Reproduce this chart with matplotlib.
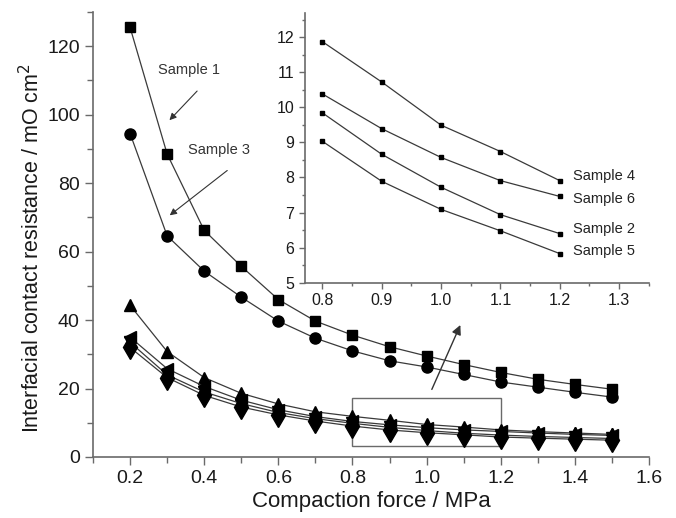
import numpy as np
import matplotlib.pyplot as plt
from matplotlib.patches import Rectangle
from matplotlib.ticker import MultipleLocator

plt.rcParams['font.family'] = ['Liberation Sans', 'DejaVu Sans']

# compaction force (MPa)
force = [0.2, 0.3, 0.4, 0.5, 0.6, 0.7, 0.8, 0.9, 1.0, 1.1, 1.2, 1.3, 1.4, 1.5]

# interfacial contact resistance (mOhm cm2)
sample1 = [125.5, 88.5, 66.2, 55.7, 46.0, 39.7, 35.6, 32.2, 29.5, 27.0, 24.7, 22.7, 21.2, 19.8]
sample3 = [94.5, 64.6, 54.3, 46.7, 39.7, 34.7, 31.0, 28.1, 26.3, 24.1, 21.9, 20.4, 18.9, 17.5]
sample4 = [44.3, 30.8, 23.2, 18.6, 15.5, 13.2, 11.87, 10.72, 9.49, 8.74, 7.91, 7.4, 7.0, 6.6]
sample6 = [35.0, 25.8, 20.6, 16.6, 13.8, 11.8, 10.38, 9.39, 8.57, 7.91, 7.46, 7.0, 6.6, 6.3]
sample2 = [33.5, 24.0, 19.0, 15.6, 13.0, 11.2, 9.84, 8.66, 7.72, 6.94, 6.40, 6.0, 5.7, 5.4]
sample5 = [32.0, 23.2, 18.0, 14.6, 12.3, 10.5, 9.03, 7.89, 7.09, 6.48, 5.83, 5.5, 5.2, 4.9]

spine_col = '#6a6a6a'
line_col = '#3a3a3a'


def style_axes(ax, size, major_len, minor_len):
    for side in ['top', 'right']:
        ax.spines[side].set_visible(False)
    for side in ['left', 'bottom']:
        ax.spines[side].set_color(spine_col)
        ax.spines[side].set_linewidth(1.2)
    ax.tick_params(which='major', direction='out', length=major_len, width=1.0,
                   color=spine_col, labelsize=size, labelcolor='#1a1a1a')
    ax.tick_params(which='minor', direction='out', length=minor_len, width=1.0,
                   color=spine_col)


fig = plt.figure(figsize=(6.76, 5.18), dpi=100)
ax = fig.add_axes([0.1376, 0.1178, 0.8225, 0.859])

ax.plot(force, sample1, color=line_col, lw=0.9, marker='s', ms=7.5, mfc='k', mec='k')
ax.plot(force, sample3, color=line_col, lw=0.9, marker='o', ms=8, mfc='k', mec='k')
ax.plot(force, sample4, color=line_col, lw=0.9, marker='^', ms=8.5, mfc='k', mec='k')
ax.plot(force, sample6, color=line_col, lw=0.9, marker='<', ms=8.5, mfc='k', mec='k')
ax.plot(force, sample2, color=line_col, lw=0.9, marker='v', ms=8.5, mfc='k', mec='k')
ax.plot(force, sample5, color=line_col, lw=0.9, marker='d', ms=12, mfc='k', mec='k')

ax.set_xlim(0.1, 1.6)
ax.set_ylim(0, 130)
ax.xaxis.set_minor_locator(MultipleLocator(0.1))
ax.yaxis.set_major_locator(MultipleLocator(20))
ax.yaxis.set_minor_locator(MultipleLocator(10))
ax.set_xticks([0.2, 0.4, 0.6, 0.8, 1.0, 1.2, 1.4, 1.6])
ax.set_xticklabels(['0.2', '0.4', '0.6', '0.8', '1.0', '1.2', '1.4', '1.6'])
style_axes(ax, 14, 6, 4)
ax.set_xlabel('Compaction force / MPa', fontsize=16, color='#1a1a1a', labelpad=3)
ax.set_ylabel('Interfacial contact resistance / mO cm$^2$', fontsize=15.5,
              color='#1a1a1a')
ax.yaxis.set_label_coords(-0.088, 0.47)

# zoom window and pointer to the inset
ax.add_patch(Rectangle((0.8, 3.2), 0.4, 14.1, fill=False, ec=spine_col, lw=1.0, zorder=1))
ax.annotate('', xy=(1.094, 39.3), xytext=(1.011, 19.0),
            arrowprops=dict(arrowstyle='-|>', color='#333333', lw=1.0, mutation_scale=14))

ax.text(0.36, 113.1, 'Sample 1', fontsize=10.5, ha='center', va='center', color='#333333')
ax.annotate('', xy=(0.301, 97.8), xytext=(0.386, 107.5),
            arrowprops=dict(arrowstyle='-|>', color='#333333', lw=0.8, mutation_scale=10))
ax.text(0.44, 89.8, 'Sample 3', fontsize=10.5, ha='center', va='center', color='#333333')
ax.annotate('', xy=(0.301, 70.1), xytext=(0.468, 84.2),
            arrowprops=dict(arrowstyle='-|>', color='#333333', lw=0.8, mutation_scale=10))

# inset: samples 4, 6, 2, 5 between 0.8 and 1.2 MPa
ins = fig.add_axes([0.4507, 0.4542, 0.509, 0.5215])
sub = slice(6, 11)
for ys in [sample4, sample6, sample2, sample5]:
    ins.plot(force[sub], ys[sub], color=line_col, lw=0.9, marker='s', ms=3.2,
             mfc='k', mec='k')
ins.set_xlim(0.77, 1.35)
ins.set_ylim(5, 12.7)
ins.xaxis.set_major_locator(MultipleLocator(0.1))
ins.xaxis.set_minor_locator(MultipleLocator(0.05))
ins.yaxis.set_major_locator(MultipleLocator(1))
ins.yaxis.set_minor_locator(MultipleLocator(0.5))
style_axes(ins, 11.5, 4, 2.5)
ins.patch.set_alpha(0)

for label, ys, dy in [('Sample 4', sample4, 0.13), ('Sample 6', sample6, -0.07),
                      ('Sample 2', sample2, 0.14), ('Sample 5', sample5, 0.07)]:
    ins.text(1.222, ys[10] + dy, label, fontsize=10.5, ha='left', va='center', color='#222222')

fig.savefig('out.png', dpi=100)
